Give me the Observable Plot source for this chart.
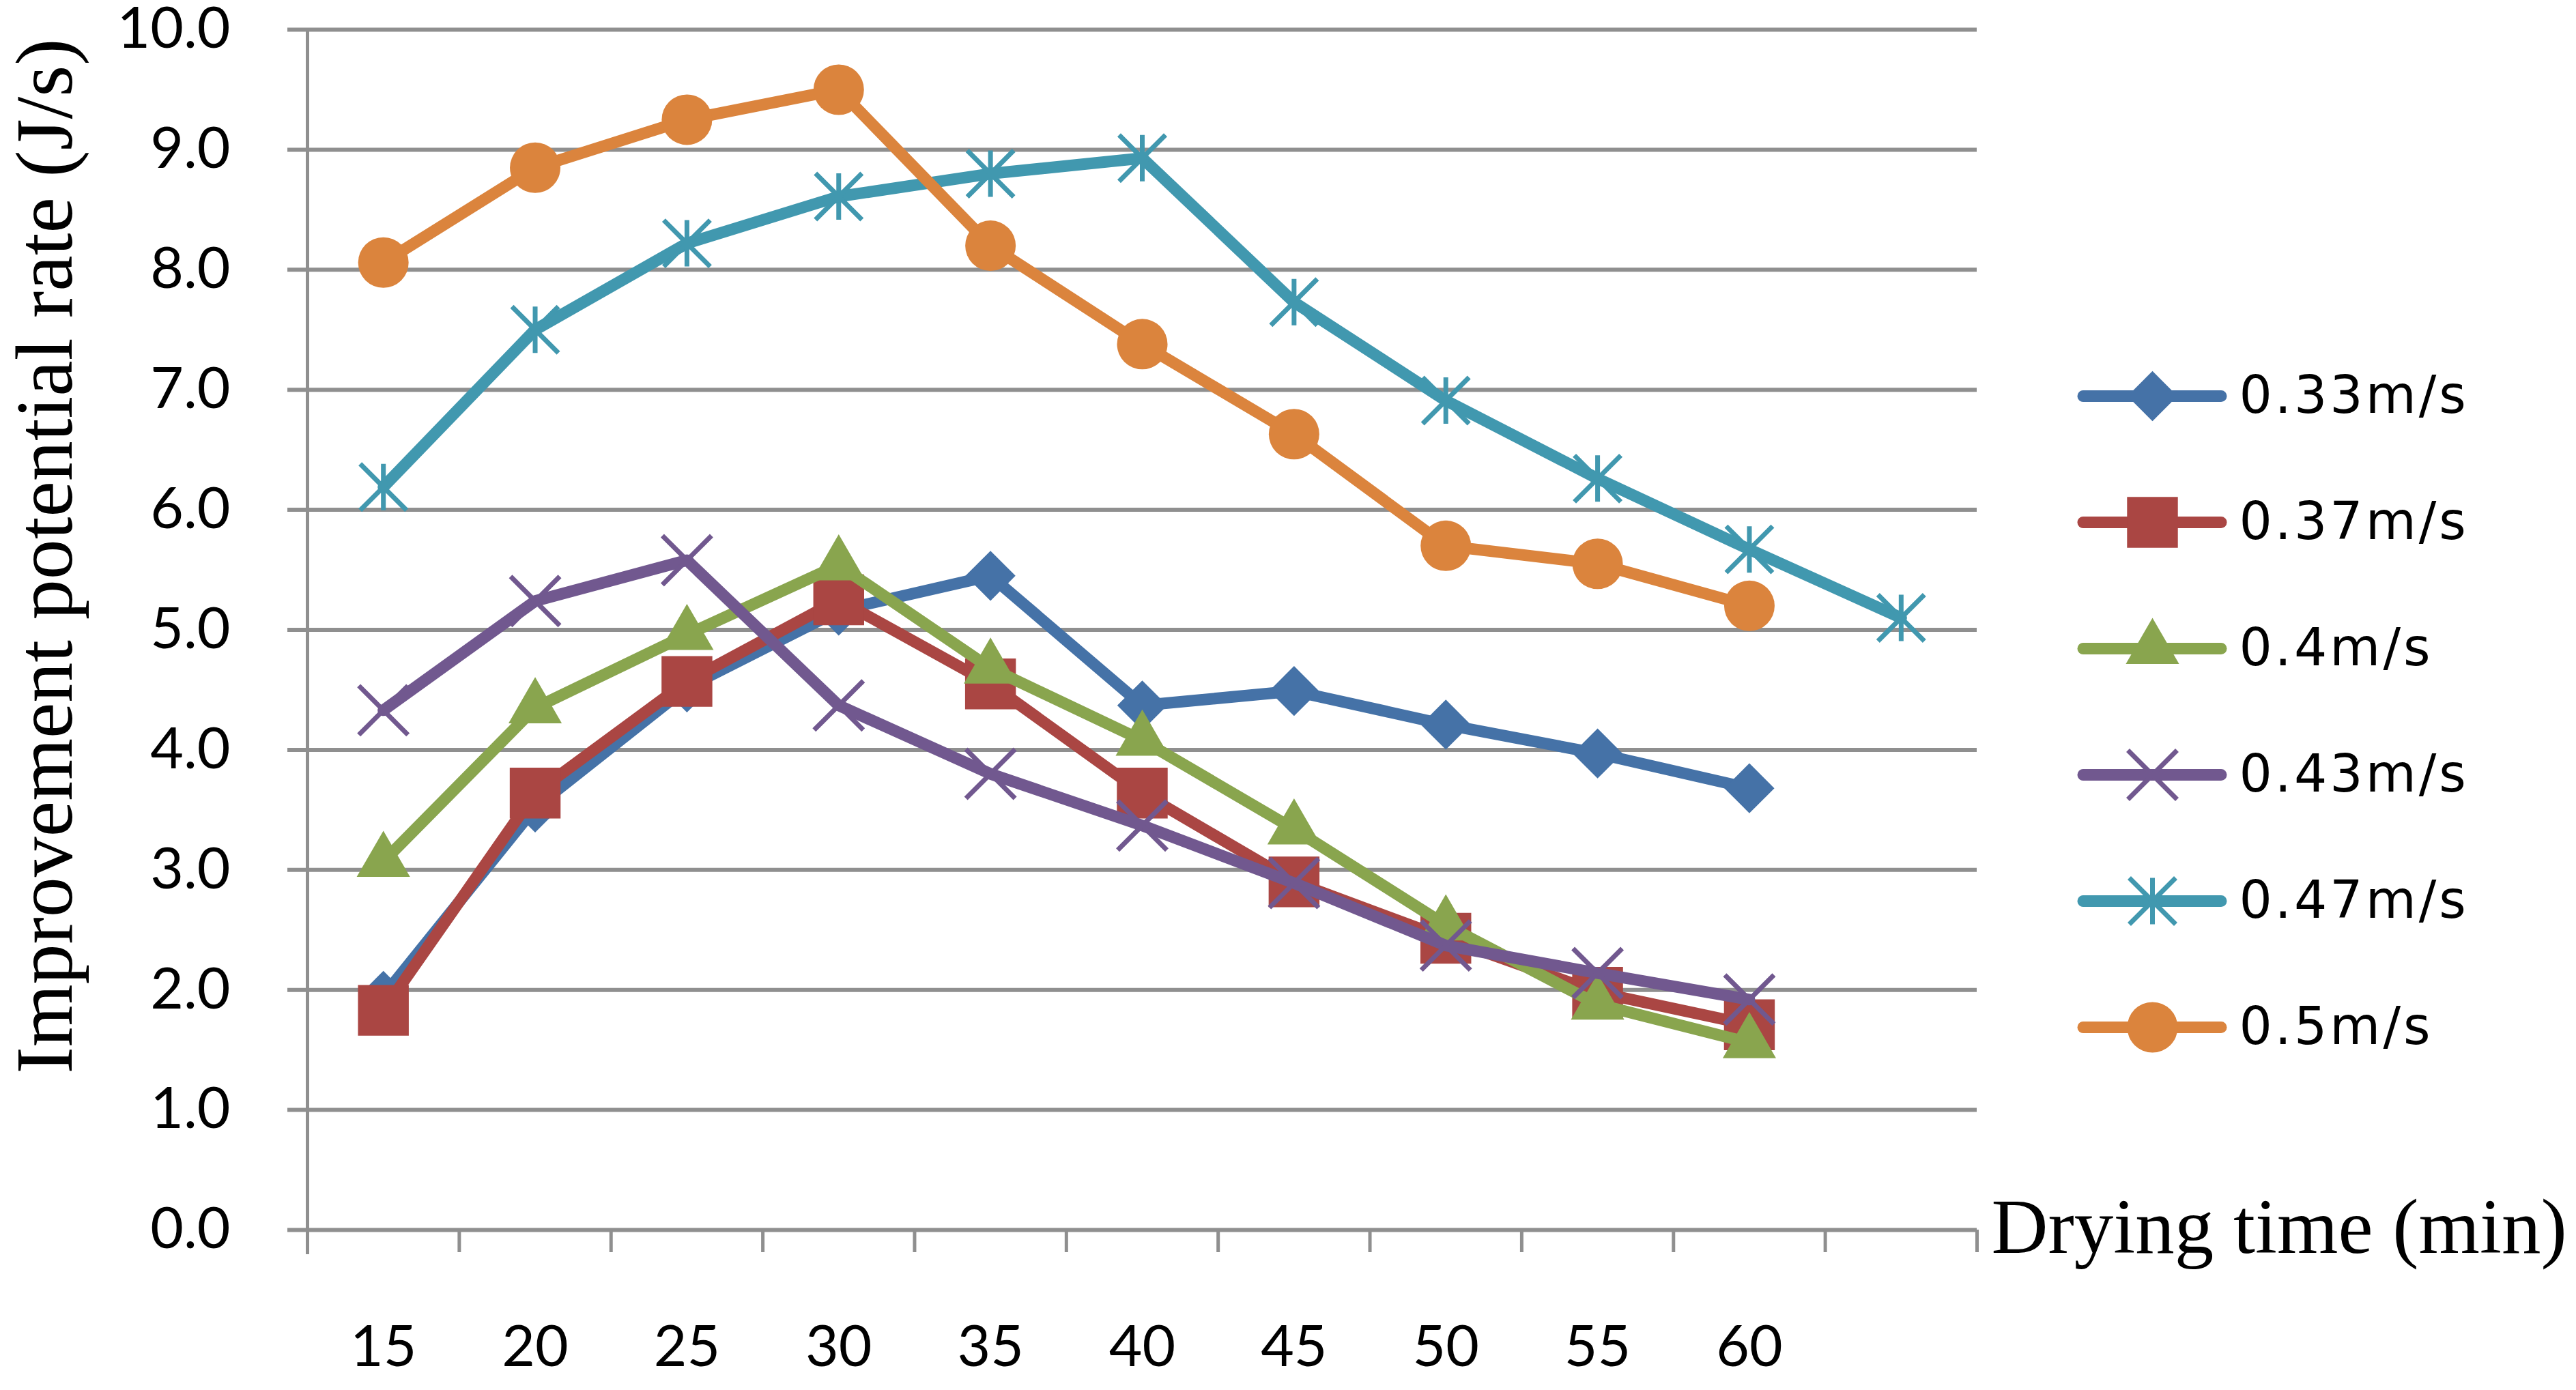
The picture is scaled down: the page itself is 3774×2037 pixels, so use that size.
<!DOCTYPE html>
<html>
<head>
<meta charset="utf-8">
<script src="https://cdn.jsdelivr.net/npm/d3@7"></script>
<script src="https://cdn.jsdelivr.net/npm/@observablehq/plot@0.6"></script>
<style>
  html, body { margin: 0; padding: 0; background: #ffffff; }
  #wrap { position: relative; width: 3774px; height: 2037px; overflow: hidden; }
  #chart { position: absolute; left: 0; top: 0; }
  #legend { position: absolute; left: 3000px; top: 480px; }
</style>
</head>
<body>
<div id="wrap"><div id="chart"></div><div id="legend"></div></div>
<script>
// ---- data ----
const times = [15, 20, 25, 30, 35, 40, 45, 50, 55, 60, 65];
const xTickLabels = ["15", "20", "25", "30", "35", "40", "45", "50", "55", "60", ""];
const yTicks = [0, 1, 2, 3, 4, 5, 6, 7, 8, 9, 10];
const seriesNames = ["0.33m/s", "0.37m/s", "0.4m/s", "0.43m/s", "0.47m/s", "0.5m/s"];
const v033 = [1.95, 3.52, 4.52, 5.16, 5.45, 4.37, 4.49, 4.21, 3.97, 3.68];
const v037 = [1.83, 3.64, 4.57, 5.25, 4.55, 3.64, 2.90, 2.43, 1.98, 1.71];
const v040 = [3.07, 4.35, 4.96, 5.54, 4.68, 4.08, 3.34, 2.54, 1.88, 1.56];
const v043 = [4.33, 5.24, 5.58, 4.37, 3.80, 3.37, 2.89, 2.37, 2.14, 1.92];
const v047 = [6.19, 7.50, 8.22, 8.61, 8.80, 8.93, 7.73, 6.91, 6.26, 5.67, 5.10];
const v050 = [8.06, 8.85, 9.25, 9.50, 8.20, 7.38, 6.63, 5.70, 5.55, 5.20];
const xTitle = "Drying time (min)";
const yTitle = "Improvement potential rate (J/s)";

// ---- styles ----
const colors = ["#4572A7", "#AA4643", "#89A54E", "#71588F", "#4198AF", "#DB843D"];
const gray = "#8f8f8f";

const timesSymbol = {
  draw(ctx, size) {
    const h = Math.sqrt(size / Math.PI);
    ctx.moveTo(-h, -h); ctx.lineTo(h, h);
    ctx.moveTo(-h, h); ctx.lineTo(h, -h);
  }
};
const starSymbol = {
  draw(ctx, size) {
    const h = Math.sqrt(size / Math.PI);
    ctx.moveTo(-h, -h); ctx.lineTo(h, h);
    ctx.moveTo(-h, h); ctx.lineTo(h, -h);
    ctx.moveTo(0, -h); ctx.lineTo(0, h);
  }
};
const markers = [
  {symbol: "diamond2", r: 33, filled: true},
  {symbol: "square", r: 42, filled: true},
  {symbol: "triangle", r: 29, filled: true},
  {symbol: timesSymbol, r: 36, filled: false},
  {symbol: starSymbol, r: 34, filled: false},
  {symbol: "circle", r: 37, filled: true}
];

const seriesValues = [v033, v037, v040, v043, v047, v050];
const rows = seriesValues.map((vals, s) =>
  vals.map((v, i) => ({series: seriesNames[s], t: times[i], v})));

const step = times[1] - times[0];
const xDomain = [times[0] - step / 2, times[times.length - 1] + step / 2];
const xEdges = times.map(t => t - step / 2).concat([xDomain[1]]);

function dotMark(data, i, opts) {
  const m = markers[i];
  return Plot.dot(data, {
    ...opts,
    symbol: m.symbol,
    r: m.r,
    fill: m.filled ? colors[i] : "none",
    stroke: m.filled ? "none" : colors[i],
    strokeWidth: m.filled ? 0 : 7
  });
}

const seriesMarks = rows.flatMap((data, i) => [
  Plot.line(data, {x: "t", y: "v", stroke: colors[i], strokeWidth: 17,
    strokeLinejoin: "round", strokeLinecap: "round"}),
  dotMark(data, i, {x: "t", y: "v"})
]);

const chart = Plot.plot({
  width: 3774,
  height: 2037,
  marginLeft: 450,
  marginRight: 878,
  marginTop: 43,
  marginBottom: 235,
  x: {domain: xDomain, axis: null},
  y: {domain: [yTicks[0], yTicks[yTicks.length - 1]], axis: null},
  style: {background: "#ffffff", overflow: "visible"},
  marks: [
    Plot.gridY(yTicks, {stroke: gray, strokeOpacity: 1, strokeWidth: 6, insetLeft: -29}),
    Plot.frame({anchor: "left", stroke: gray, strokeWidth: 5, insetBottom: -33}),
    Plot.axisX({ticks: xEdges, tickSize: 33, tickFormat: () => "", stroke: gray,
      strokeWidth: 5, label: null}),
    Plot.axisX({ticks: times, tickSize: 0, tickPadding: 140,
      tickFormat: d => xTickLabels[times.indexOf(d)], fontSize: 84,
      fontFamily: "Lato", fill: "#000", label: null}),
    Plot.axisY({ticks: yTicks, tickSize: 0, tickPadding: 113,
      tickFormat: d3.format(".1f"), fontSize: 84, fontFamily: "Lato",
      fill: "#000", label: null}),
    Plot.text([yTitle], {frameAnchor: "left", rotate: -90, dx: -383, dy: -108,
      fontSize: 118, fontFamily: "Liberation Serif", fill: "#000",
      textAnchor: "middle", lineAnchor: "middle"}),
    Plot.text([xTitle], {frameAnchor: "bottom-right", dx: 21, dy: 33,
      fontSize: 115, fontFamily: "Liberation Serif", fill: "#000",
      textAnchor: "start", lineAnchor: "bottom"}),
    ...seriesMarks
  ]
});
document.getElementById("chart").appendChild(chart);

// ---- legend ----
const legend = Plot.plot({
  width: 774,
  height: 1120,
  marginLeft: 52,
  marginRight: 520,
  marginTop: 98,
  marginBottom: 93,
  x: {domain: [0, 1], axis: null},
  y: {type: "point", domain: seriesNames, padding: 0, axis: null},
  style: {background: "transparent", overflow: "visible", letterSpacing: "4px"},
  marks: seriesNames.flatMap((name, i) => [
    Plot.ruleY([name], {y: d => d, x1: 0, x2: 1, stroke: colors[i], strokeWidth: 17,
      strokeLinecap: "round"}),
    dotMark([name], i, {x: 0.5, y: d => d}),
    Plot.text([name], {x: 1, y: d => d, dx: 26, textAnchor: "start",
      fontFamily: "DejaVu Sans", fontSize: 76, fill: "#000"})
  ])
});
document.getElementById("legend").appendChild(legend);
</script>
</body>
</html>
